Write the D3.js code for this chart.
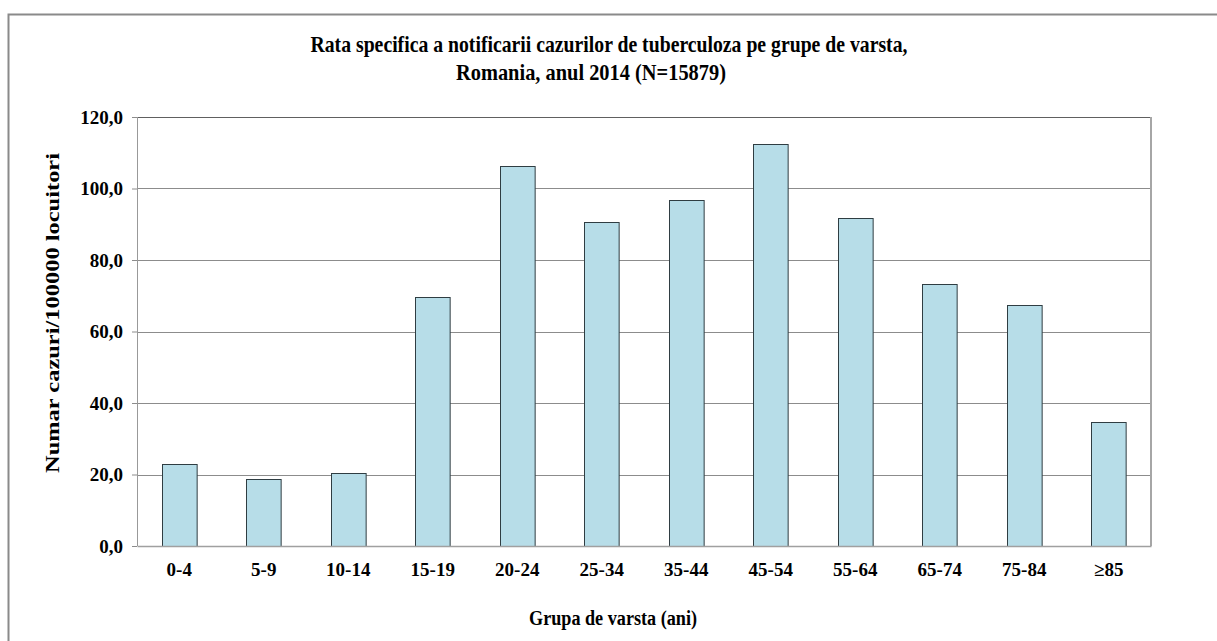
<!DOCTYPE html>
<html>
<head>
<meta charset="utf-8">
<script src="https://cdn.jsdelivr.net/npm/d3@7"></script>
<style>
  body { margin: 0; background: #fff; }
  text { font-family: "Liberation Serif", "Times New Roman", serif; font-weight: bold; fill: #000; }
</style>
</head>
<body>
<div id="my_dataviz"></div>
<script>
// data
var categories = ["0-4", "5-9", "10-14", "15-19", "20-24", "25-34", "35-44", "45-54", "55-64", "65-74", "75-84", "\u226585"];
var values = [22.9, 18.8, 20.5, 69.6, 106.3, 90.7, 96.8, 112.4, 91.7, 73.3, 67.3, 34.7];
var yTicks = [0, 20, 40, 60, 80, 100, 120];
var titleLines = ["Rata specifica a notificarii cazurilor de tuberculoza  pe grupe de varsta,", "Romania, anul 2014 (N=15879)"];

var W = 1217, H = 641;
var margin = {top: 117, right: 66, bottom: 95, left: 137},
    width = W - margin.left - margin.right,
    height = H - margin.top - margin.bottom;

var root = d3.select("#my_dataviz")
  .append("svg")
    .attr("width", W)
    .attr("height", H);

// outer chart frame (runs off the right/bottom edges)
root.append("rect")
    .attr("x", 8.5).attr("y", 14.5)
    .attr("width", W + 20).attr("height", H + 20)
    .attr("fill", "none")
    .attr("stroke", "#8a8a8a")
    .attr("stroke-width", 2);

var svg = root.append("g")
    .attr("transform", "translate(" + margin.left + "," + margin.top + ")");

var x = d3.scaleBand()
    .domain(categories)
    .range([0, width])
    .paddingInner(0.59)
    .paddingOuter(0.295);

var y = d3.scaleLinear()
    .domain([0, 120])
    .range([height, 0]);

// gridlines
svg.append("g")
  .selectAll("line")
  .data(yTicks.filter(function(d){ return d > 0 && d < 120 }))
  .enter().append("line")
    .attr("x1", 0).attr("x2", width)
    .attr("y1", function(d){ return Math.round(y(d)) + 0.5 })
    .attr("y2", function(d){ return Math.round(y(d)) + 0.5 })
    .attr("stroke", "#8c8c8c")
    .attr("stroke-width", 1);

// plot frame
svg.append("line")
    .attr("x1", 0).attr("x2", width)
    .attr("y1", 0.5).attr("y2", 0.5)
    .attr("stroke", "#606060");
svg.append("line")
    .attr("x1", width).attr("x2", width)
    .attr("y1", 0).attr("y2", height)
    .attr("stroke", "#a6a6a6")
    .attr("stroke-width", 2);

// bars
svg.selectAll(".bar")
  .data(values)
  .enter().append("rect")
    .attr("class", "bar")
    .attr("x", function(d, i){ return Math.round(x(categories[i])) + 0.5 })
    .attr("y", function(d){ return Math.round(y(d)) + 0.5 })
    .attr("width", x.bandwidth())
    .attr("height", function(d){ return height - Math.round(y(d)) })
    .attr("fill", "#b7dde8")
    .attr("stroke", "#2f3d42")
    .attr("stroke-width", 1);

// y axis
var yAxis = svg.append("g")
    .call(d3.axisLeft(y)
      .tickValues(yTicks)
      .tickSize(5)
      .tickPadding(9)
      .tickFormat(function(d){ return d3.format(".1f")(d).replace(".", ",") }));
yAxis.select(".domain").attr("stroke", "#999").attr("d", "M0.5,0V" + height);
yAxis.selectAll(".tick line").attr("stroke", "#8c8c8c");
yAxis.selectAll("text")
    .style("font-size", "19px")
    .style("font-family", "Liberation Serif")
    .style("font-weight", "bold")
    .attr("fill", "#000");

// x axis
var xAxis = svg.append("g")
    .attr("transform", "translate(0," + height + ")")
    .call(d3.axisBottom(x).tickSize(0).tickPadding(17));
xAxis.select(".domain").attr("stroke", "#a0a0a0").attr("stroke-width", 1.5);
xAxis.selectAll("text")
    .style("font-size", "19px")
    .style("font-family", "Liberation Serif")
    .style("font-weight", "bold")
    .attr("fill", "#000");

// title
root.append("text")
    .attr("x", 609).attr("y", 52)
    .attr("text-anchor", "middle")
    .attr("textLength", 597)
    .attr("lengthAdjust", "spacingAndGlyphs")
    .style("font-size", "23px")
    .text(titleLines[0]);
root.append("text")
    .attr("x", 591).attr("y", 80)
    .attr("text-anchor", "middle")
    .attr("textLength", 270)
    .attr("lengthAdjust", "spacingAndGlyphs")
    .style("font-size", "23px")
    .text(titleLines[1]);

// axis labels
root.append("text")
    .attr("x", 613).attr("y", 625)
    .attr("text-anchor", "middle")
    .attr("textLength", 168)
    .attr("lengthAdjust", "spacingAndGlyphs")
    .style("font-size", "20px")
    .text("Grupa de  varsta (ani)");

root.append("text")
    .attr("transform", "translate(59,313) rotate(-90)")
    .attr("text-anchor", "middle")
    .attr("textLength", 320)
    .attr("lengthAdjust", "spacingAndGlyphs")
    .style("font-size", "19px")
    .text("Numar cazuri/100000 locuitori");
</script>
</body>
</html>
